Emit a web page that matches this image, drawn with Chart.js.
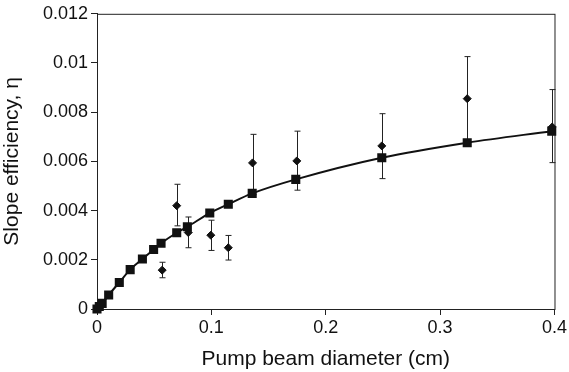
<!DOCTYPE html>
<html>
<head>
<meta charset="utf-8">
<script src="https://cdn.jsdelivr.net/npm/chart.js@4"></script>
<style>
  html, body { margin: 0; padding: 0; background: #fff; }
  #wrap { width: 569px; height: 372px; }
</style>
</head>
<body>
<div id="wrap"><canvas id="chart"></canvas></div>
<script>
// model curve (squares)
const modelX = [0, 0.002, 0.0045, 0.0102, 0.0195, 0.029, 0.0397, 0.0495, 0.056, 0.0697, 0.079, 0.0986, 0.1148, 0.1357, 0.1738, 0.249, 0.3237, 0.3976];
const modelY = [0, 0.0001, 0.00023, 0.00057, 0.00108, 0.0016, 0.00203, 0.00242, 0.00267, 0.0031, 0.00334, 0.0039, 0.00426, 0.0047, 0.00527, 0.00615, 0.00676, 0.00723];

// measured (diamonds) with error bars
const measX = [0.057, 0.0697, 0.0798, 0.0995, 0.1148, 0.136, 0.1747, 0.249, 0.3237, 0.398];
const measY = [0.00158, 0.0042, 0.00311, 0.003, 0.00249, 0.00594, 0.00602, 0.00663, 0.00855, 0.0074];
const errLo = [0.00127, 0.00338, 0.00249, 0.00238, 0.00199, 0.00465, 0.00483, 0.0053, 0.0068, 0.00595];
const errHi = [0.0019, 0.00507, 0.00374, 0.00361, 0.00299, 0.0071, 0.00723, 0.00794, 0.01026, 0.00892];

const xTicks = [0, 0.1, 0.2, 0.3, 0.4];
const yTicks = [0, 0.002, 0.004, 0.006, 0.008, 0.01, 0.012];

const FONT = '"Liberation Sans", Arial, Helvetica, sans-serif';

const frameAndErrors = {
    id: 'frameAndErrors',
    beforeDatasetsDraw(chart) {
        const { ctx, chartArea: a, scales } = chart;
        ctx.save();
        ctx.strokeStyle = '#222';
        ctx.lineWidth = 1;
        ctx.strokeRect(a.left + 0.5, a.top + 0.5, a.right - a.left, a.bottom - a.top);
        // error bars
        ctx.strokeStyle = '#222';
        ctx.lineWidth = 1;
        measX.forEach((x, i) => {
            const px = Math.round(scales.x.getPixelForValue(x)) + 0.5;
            const y1 = scales.y.getPixelForValue(errLo[i]);
            const y2 = scales.y.getPixelForValue(errHi[i]);
            ctx.beginPath();
            ctx.moveTo(px, y1);
            ctx.lineTo(px, y2);
            ctx.moveTo(px - 3, y1);
            ctx.lineTo(px + 3, y1);
            ctx.moveTo(px - 3, y2);
            ctx.lineTo(px + 3, y2);
            ctx.stroke();
        });
        ctx.restore();
    }
};

new Chart(document.getElementById('chart'), {
    type: 'scatter',
    data: {
        datasets: [
            {
                label: 'Model',
                data: modelX.map((x, i) => ({ x: x, y: modelY[i] })),
                showLine: true,
                borderColor: '#111',
                borderWidth: 2,
                backgroundColor: '#111',
                pointStyle: 'rect',
                pointRadius: 5,
                pointHoverRadius: 5,
                cubicInterpolationMode: 'monotone',
                clip: false
            },
            {
                label: 'Measured',
                data: measX.map((x, i) => ({ x: x, y: measY[i] })),
                showLine: false,
                borderColor: '#111',
                backgroundColor: '#111',
                pointStyle: 'rectRot',
                pointRadius: 4,
                pointHoverRadius: 4,
                clip: false
            }
        ]
    },
    options: {
        responsive: true,
        maintainAspectRatio: false,
        animation: false,
        layout: { padding: { top: 12, right: 11, left: 0, bottom: 0 } },
        plugins: { legend: { display: false }, tooltip: { enabled: false } },
        scales: {
            x: {
                type: 'linear',
                min: 0,
                max: 0.4,
                afterBuildTicks: s => { s.ticks = xTicks.map(v => ({ value: v })); },
                ticks: {
                    color: '#111',
                    font: { family: FONT, size: 18 },
                    padding: 2,
                    maxRotation: 0,
                    callback: v => String(+v.toFixed(3))
                },
                grid: { drawOnChartArea: false, tickLength: 6, color: '#222' },
                border: { color: '#222' },
                title: {
                    display: true,
                    text: 'Pump beam diameter (cm)',
                    color: '#111',
                    font: { family: FONT, size: 21 },
                    padding: { top: 4, bottom: 0 }
                },
                afterFit: s => { s.height = 63; }
            },
            y: {
                type: 'linear',
                min: 0,
                max: 0.012,
                afterBuildTicks: s => { s.ticks = yTicks.map(v => ({ value: v })); },
                ticks: {
                    color: '#111',
                    font: { family: FONT, size: 18 },
                    padding: 3,
                    callback: v => String(+v.toFixed(4))
                },
                grid: { drawOnChartArea: false, tickLength: 6, color: '#222' },
                border: { color: '#222' },
                title: {
                    display: true,
                    text: 'Slope efficiency, η',
                    color: '#111',
                    font: { family: FONT, size: 21 },
                    padding: { top: 0, bottom: 4 }
                },
                afterFit: s => { s.width = 97; }
            }
        }
    },
    plugins: [frameAndErrors]
});
</script>
</body>
</html>
